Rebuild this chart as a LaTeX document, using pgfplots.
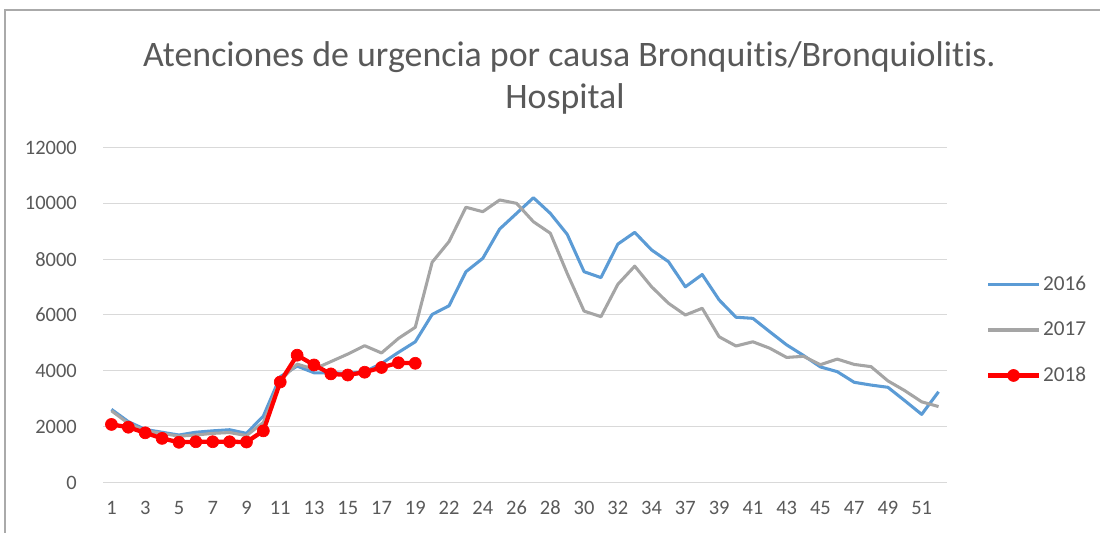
\documentclass[border=0pt]{standalone}
\usepackage{pgfplots}
\pgfplotsset{compat=1.18}
\usepackage{fontspec}
\setmainfont{Carlito}[Ligatures=NoCommon]
\definecolor{c16}{RGB}{91,155,213}
\definecolor{c17}{RGB}{165,165,165}
\definecolor{c18}{RGB}{255,0,0}
\definecolor{tc}{RGB}{89,89,89}
\definecolor{gc}{RGB}{217,217,217}
\definecolor{bc}{RGB}{170,170,170}
\pgfplotstableread{
i y16 y17
1 2620 2570
2 2180 2120
3 1900 1850
4 1800 1760
5 1700 1660
6 1800 1700
7 1850 1760
8 1890 1790
9 1760 1680
10 2380 2150
11 3790 3670
12 4170 4240
13 3930 4060
14 3930 4330
15 3910 4600
16 3970 4900
17 4260 4640
18 4660 5160
19 5040 5560
20 6020 7890
21 6330 8630
22 7550 9860
23 8030 9700
24 9080 10120
25 9640 10000
26 10200 9340
27 9640 8930
28 8890 7490
29 7550 6140
30 7340 5940
31 8540 7100
32 8960 7750
33 8330 7010
34 7910 6420
35 7010 6000
36 7450 6240
37 6540 5220
38 5920 4890
39 5880 5040
40 5400 4810
41 4930 4480
42 4550 4520
43 4140 4220
44 3970 4420
45 3590 4230
46 3490 4150
47 3410 3640
48 2930 3290
49 2440 2890
50 3250 2720
}\dataA
\pgfplotstableread{
i y18
1 2080
2 1980
3 1780
4 1580
5 1440
6 1460
7 1460
8 1460
9 1450
10 1850
11 3600
12 4560
13 4210
14 3890
15 3850
16 3950
17 4120
18 4290
19 4270
}\dataB
\begin{document}
\begin{tikzpicture}
\useasboundingbox (0,0) rectangle (825bp,399.75bp);
\draw[bc, line width=0.9bp] (3.75bp,-10bp) -- (3.75bp,392.25bp) -- (840bp,392.25bp);
\node[anchor=base, text=tc, font=\fontsize{27}{30}\selectfont, inner sep=0pt] at (427bp,350bp) {Atenciones de urgencia por causa Bronquitis/Bronquiolitis.};
\node[anchor=base, text=tc, font=\fontsize{27}{30}\selectfont, inner sep=0pt] at (423.75bp,318.5bp) {Hospital};
\begin{axis}[
  at={(77.25bp,37.875bp)}, anchor=south west,
  scale only axis, width=633bp, height=251.25bp,
  xmin=0.5, xmax=50.5, ymin=0, ymax=12000,
  xtick={1,3,...,49},
  xticklabels={1,3,5,7,9,11,13,15,17,19,22,24,26,28,30,32,34,37,39,41,43,45,47,49,51},
  ytick={0,2000,...,12000},
  scaled y ticks=false,
  ymajorgrids, grid style={gc, line width=0.75bp},
  axis line style={draw=none}, major tick length=0pt,
  tick label style={text=tc, font=\fontsize{15.4}{18}\selectfont},
  /pgf/number format/assume math mode=true,
  /pgf/number format/1000 sep={},
  yticklabel style={anchor=east, inner sep=0pt, xshift=-19.5bp},
  xticklabel style={anchor=center, inner sep=0pt, yshift=-19bp},
  clip=false,
  legend style={at={(axis description cs:1.046,0.455)}, anchor=west, draw=none, fill=none,
    font=\fontsize{16}{19}\selectfont, text=tc, row sep=19bp, inner sep=0pt,
    nodes={inner sep=1.5bp}},
  legend cell align=left,
  legend image code/.code={\draw[mark repeat=2,mark phase=2] plot coordinates {(0bp,0bp) (19bp,0bp) (38bp,0bp)};},
]
\addplot[c16, line width=2.3bp, line join=round] table[x=i, y=y16] {\dataA};
\addlegendentry{2016}
\addplot[c17, line width=2.3bp, line join=round] table[x=i, y=y17] {\dataA};
\addlegendentry{2017}
\addplot[c18, line width=3.2bp, line join=round, mark=*, mark size=4.5bp, mark options={fill=c18, draw=c18, line width=0.5bp}] table[x=i, y=y18] {\dataB};
\addlegendentry{2018}
\end{axis}
\end{tikzpicture}
\end{document}
